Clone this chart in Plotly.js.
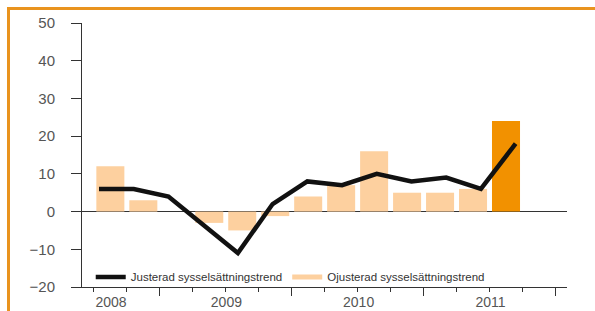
<!DOCTYPE html>
<html>
<head>
<meta charset="utf-8">
<script src="https://cdn.plot.ly/plotly-3.0.1.min.js"></script>
<style>
  html, body { margin: 0; padding: 0; background: #fff; }
  #wrap { position: relative; width: 595px; height: 311px; overflow: hidden; }
  #chart { position: absolute; left: 0; top: 0; width: 595px; height: 311px; }
  #frame { position: absolute; left: 7px; top: 7px; width: 600px; height: 320px;
           border-top: 3px solid #E9931E; border-left: 3px solid #E9931E; pointer-events: none; }
</style>
</head>
<body>
<div id="wrap">
  <div id="chart"></div>
  <div id="frame"></div>
</div>
<script>
// Quarter slots: 2008Q3 ... 2011Q3 (13 values), 2011Q4 empty
const barSlots = [0.5, 1.5, 2.5, 3.5, 4.5, 5.5, 6.5, 7.5, 8.5, 9.5, 10.5, 11.5, 12.5];
const ojusterad = [12, 3, 0, -3, -5, -1.2, 4, 7, 16, 5, 5, 6, 24];
const barColors = ['#FDD09F','#FDD09F','#FDD09F','#FDD09F','#FDD09F','#FDD09F','#FDD09F',
                   '#FDD09F','#FDD09F','#FDD09F','#FDD09F','#FDD09F','#F29100'];
const linePoints = [0, 1, 2, 3, 4, 5, 6, 7, 8, 9, 10, 11, 12];
const justerad = [6, 6, 4, -3.5, -11, 2, 8, 7, 10, 8, 9, 6, 18];
const years = ['2008', '2009', '2010', '2011'];
const yearPos = [0.52, 4.02, 8.03, 12.03];
const quarterTicks = [0,1,2,3,4,5,6,7,8,9,10,11,12,13,14];
const yearTicks = [2, 6, 10, 14];
const seriesNames = ['Justerad sysselsättningstrend', 'Ojusterad sysselsättningstrend'];

const font = '"Liberation Sans", Arial, Helvetica, sans-serif';

const traces = [
  {
    type: 'scatter', mode: 'lines', name: seriesNames[0],
    x: linePoints, y: justerad, xaxis: 'x2', yaxis: 'y',
    line: { color: '#111111', width: 4.5 }
  },
  {
    type: 'bar', name: seriesNames[1], showlegend: false,
    x: barSlots, y: ojusterad, xaxis: 'x', yaxis: 'y',
    width: 0.85,
    marker: { color: barColors, line: { width: 0 } }
  },
  // legend key for the bar series (drawn as a wide band, like the original key)
  {
    type: 'scatter', mode: 'lines', name: seriesNames[1],
    x: [null], y: [null], xaxis: 'x', yaxis: 'y',
    line: { color: '#FDD09F', width: 5 }, hoverinfo: 'skip'
  },
  { type: 'scatter', x: [], y: [], xaxis: 'x3', yaxis: 'y', showlegend: false, hoverinfo: 'skip' }
];

const layout = {
  width: 595, height: 311,
  margin: { l: 82, r: 27.5, t: 23, b: 24, pad: 0 },
  paper_bgcolor: '#ffffff', plot_bgcolor: '#ffffff',
  font: { family: font, color: '#333' },
  showlegend: true,
  legend: {
    orientation: 'h', x: 0.018, xanchor: 'left', y: 0.038, yanchor: 'middle',
    bgcolor: 'rgba(0,0,0,0)', font: { size: 11.5, color: '#333', family: font },
    itemgap: 7, traceorder: 'normal'
  },
  bargap: 0.15,
  xaxis: {
    range: [-0.36, 14.35], showgrid: false, zeroline: false,
    showline: true, linecolor: '#333', linewidth: 1,
    tickmode: 'array', tickvals: yearTicks, ticks: 'outside', ticklen: 8,
    tickcolor: '#333', tickwidth: 1, showticklabels: false,
    minor: { tickmode: 'array', tickvals: quarterTicks, ticks: 'outside', ticklen: 4, tickcolor: '#333', tickwidth: 1, showgrid: false }
  },
  xaxis2: {
    overlaying: 'x', anchor: 'y', range: [-0.49, 13.48], visible: false
  },
  xaxis3: {
    overlaying: 'x', anchor: 'y', side: 'bottom', range: [-0.36, 14.35],
    showgrid: false, zeroline: false, showline: false,
    tickmode: 'array', tickvals: yearPos, ticktext: years, ticks: '',
    tickfont: { size: 14, color: '#555', family: font }, ticklabelstandoff: 5
  },
  yaxis: {
    range: [-20, 50], showgrid: false, zeroline: true, zerolinecolor: '#333', zerolinewidth: 1,
    showline: true, linecolor: '#333', linewidth: 1,
    tickmode: 'array', tickvals: [-20, -10, 0, 10, 20, 30, 40, 50],
    ticks: 'outside', ticklen: 10, tickcolor: '#333', tickwidth: 1,
    tickfont: { size: 15, color: '#555', family: font }, ticklabelstandoff: 13
  }
};

Plotly.newPlot('chart', traces, layout, { displayModeBar: false, staticPlot: true });
</script>
</body>
</html>
